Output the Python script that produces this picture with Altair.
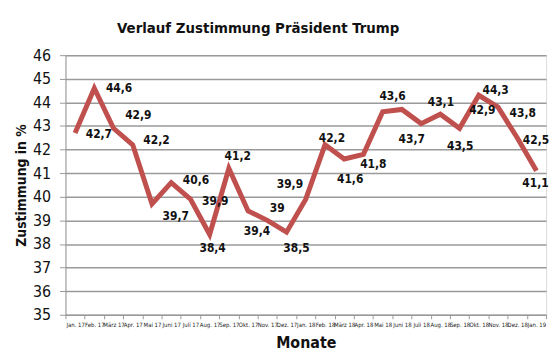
import altair as alt
import pandas as pd

months = ["Jan. 17", "Feb. 17", "März 17", "Apr. 17", "Mai 17", "Juni 17", "Juli 17",
          "Aug. 17", "Sep. 17", "Okt. 17", "Nov. 17", "Dez. 17", "Jan. 18", "Feb. 18",
          "März 18", "Apr. 18", "Mai 18", "Juni 18", "Juli 18", "Aug. 18", "Sep. 18",
          "Okt. 18", "Nov. 18", "Dez. 18", "Jan. 19"]
values = [42.7, 44.6, 42.9, 42.2, 39.7, 40.6, 39.9, 38.4, 41.2, 39.4, 39.0, 38.5, 39.9,
          42.2, 41.6, 41.8, 43.6, 43.7, 43.1, 43.5, 42.9, 44.3, 43.8, 42.5, 41.1]
labels = ["42,7", "44,6", "42,9", "42,2", "39,7", "40,6", "39,9", "38,4", "41,2", "39,4",
          "39", "38,5", "39,9", "42,2", "41,6", "41,8", "43,6", "43,7", "43,1", "43,5",
          "42,9", "44,3", "43,8", "42,5", "41,1"]
# label offsets in pixels relative to each point (as placed in the original)
label_dx = [24, 25, 25, 24, 24, 25, 25, 3, 9, 9, 10, 10, -16, 7, 6, 10, 10, 10, 20, 20, 23, 17, 25, 19, -1]
label_dy = [1, 0, -13, -5, 12, -3, 2, 14, -13, 20, -12, 16, -15, -7, 20, 10, -16, 30, -22, 32, -18, -5, 6, 2, 12]

df = pd.DataFrame({"Monat": months, "Wert": values, "Label": labels,
                   "dx": label_dx, "dy": label_dy})

COND = "DejaVu Sans Condensed, DejaVu Sans, sans-serif"
PLOT_W, PLOT_H = 485, 262
Y_MIN, Y_MAX = 35, 46

x_enc = alt.X("Monat:N", sort=months, bandPosition=0.5,
              scale=alt.Scale(type="band", paddingInner=0, paddingOuter=0),
              axis=alt.Axis(title="Monate", labelAngle=0, tickBand="extent",
                            labelFontSize=6, labelFont=COND, labelColor="#222",
                            titleFontSize=16, titleFont=COND, titleFontWeight="bold",
                            titleColor="#111", titlePadding=7, tickSize=4,
                            domainColor="#999", tickColor="#999", labelPadding=3,
                            grid=False))
y_scale = alt.Scale(domain=[Y_MIN, Y_MAX], nice=False, zero=False)
y_axis = alt.Axis(title="Zustimmung in %", values=list(range(35, 47)), tickCount=12,
                  labelFontSize=16, labelFont=COND, labelColor="#111",
                  titleFontSize=14, titleFont=COND, titleFontWeight="bold",
                  titleColor="#111", titlePadding=4, tickSize=6, labelPadding=9,
                  domainColor="#999", tickColor="#999", gridColor="#9a9a9a",
                  gridWidth=1.5)

base = alt.Chart(df)
line = base.mark_line(color="#C0504D", strokeWidth=5, strokeJoin="miter").encode(
    x=x_enc, y=alt.Y("Wert:Q", scale=y_scale, axis=y_axis))
text = base.transform_calculate(
    px=f"datum.dx + {PLOT_W / len(months) / 2}",
    ly=f"datum.Wert - datum.dy * {(Y_MAX - Y_MIN) / PLOT_H}",
).mark_text(fontSize=12, font=COND, fontWeight="bold", color="#111",
            align="center", baseline="middle").encode(
    x=alt.X("Monat:N", sort=months),
    y=alt.Y("ly:Q"),
    xOffset=alt.XOffset("px:Q", scale=None),
    text="Label:N")

chart = (line + text).properties(
    width=PLOT_W, height=PLOT_H,
    title=alt.TitleParams("Verlauf Zustimmung Präsident Trump", fontSize=15,
                          font=COND, fontWeight="bold", color="#111",
                          anchor="middle", dx=-48, offset=11),
    padding={"left": 58, "top": 46, "right": 6, "bottom": 40},
    autosize=alt.AutoSizeParams(type="none"),
).configure_view(fill="#F3E7E7", stroke=None).configure(background="white")

chart.save("out.html", embed_options={"renderer": "svg", "actions": False})
